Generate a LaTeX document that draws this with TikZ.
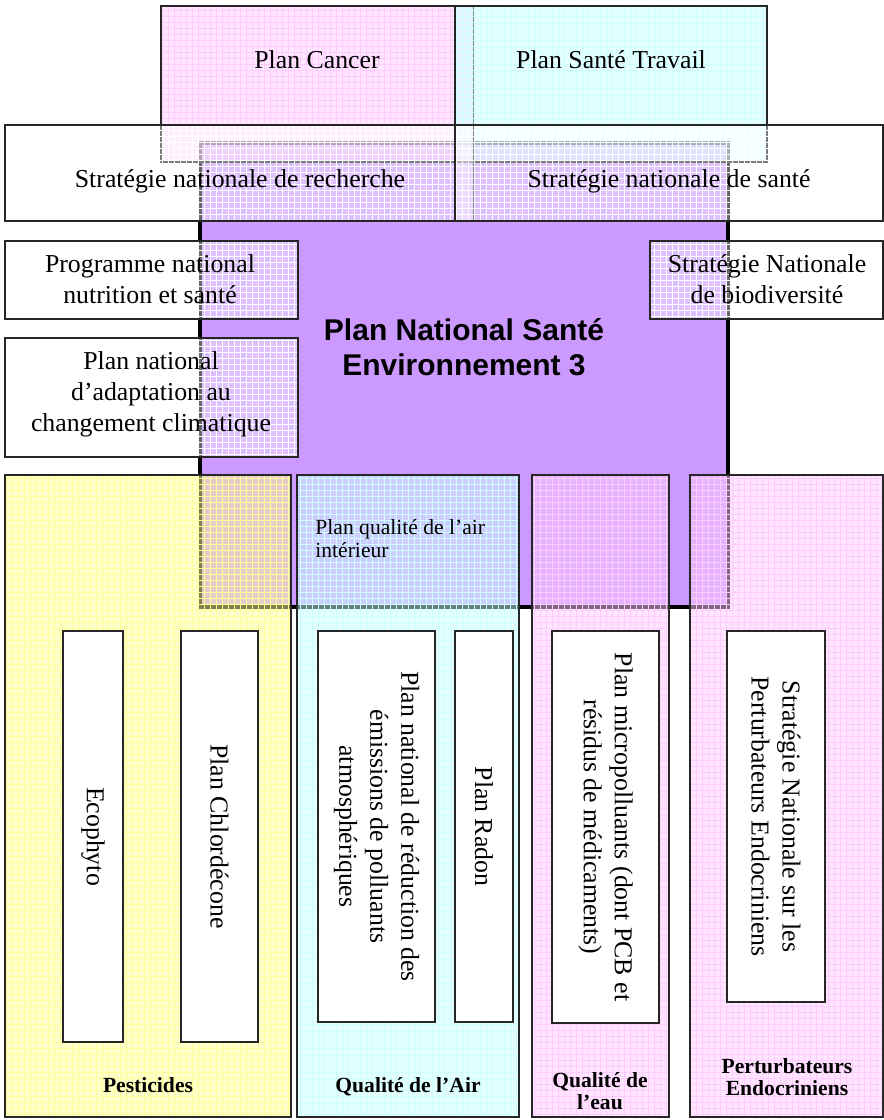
\documentclass[tikz,border=0pt]{standalone}
\usepackage{fontspec}
\setmainfont{Liberation Serif}
\newfontfamily\titlefont{Liberation Sans}
\usetikzlibrary{fit,patterns}

\definecolor{pnsepurple}{RGB}{204,153,255}
\definecolor{cancerpink}{RGB}{255,204,255}
\definecolor{travailcyan}{RGB}{204,255,255}
\definecolor{pestyellow}{RGB}{255,255,153}

\tikzstyle{pnse} = [draw=black, line width=2pt, fill=pnsepurple, inner sep=0pt]
\tikzstyle{zone} = [inner sep=0pt, fill opacity=0.5]
\tikzstyle{whitezone} = [inner sep=0pt, fill opacity=0.4]
\tikzstyle{planbox} = [draw=black!85, line width=0.7pt, inner sep=0pt, fill=white]
\tikzstyle{txt} = [align=center, inner sep=0pt, font=\fontsize{12.9}{15.5}\selectfont]
\tikzstyle{vtxt} = [txt, rotate=-90]
\tikzstyle{theme} = [align=center, inner sep=0pt, font=\bfseries\fontsize{10.8}{10.8}\selectfont]
\tikzset{gridfill/.style={fill=#1, postaction={pattern=grid, pattern color=#1},
    postaction={draw=black!85, line width=0.7pt}}}

\begin{document}
\begin{tikzpicture}[x=0.5pt, y=-0.5pt]
    \useasboundingbox (0,0) rectangle (884,1120);

    % plan central
    \node[pnse, fit={(200,143) (728,607)}] (pnse3) {};

    % plans du haut
    \node[zone, gridfill=cancerpink, fit={(161,6) (474,162)}] (cancer) {};
    \node[zone, gridfill=travailcyan, fit={(455,6) (767,162)}] (travail) {};
    \node[whitezone, gridfill=white, fit={(5,125) (474,221)}] (snr) {};
    \node[whitezone, gridfill=white, fit={(455,125) (883,221)}] (sns) {};

    % plans lateraux
    \node[whitezone, gridfill=white, fit={(5,241) (298,319)}] (pnns) {};
    \node[whitezone, gridfill=white, fit={(5,338) (298,457)}] (pnacc) {};
    \node[whitezone, gridfill=white, fit={(650,241) (883,319)}] (snb) {};

    % colonnes thematiques
    \node[zone, gridfill=pestyellow, fit={(5,475) (291,1117)}] (pest) {};
    \node[zone, gridfill=travailcyan, fit={(297,475) (519,1117)}] (air) {};
    \node[zone, gridfill=cancerpink, fit={(532,475) (669,1117)}] (eau) {};
    \node[zone, gridfill=cancerpink, fit={(690,475) (883,1117)}] (pe) {};

    % plans des colonnes
    \node[planbox, fit={(63,631) (123,1042)}] (ecophyto) {};
    \node[planbox, fit={(181,631) (258,1042)}] (chlordecone) {};
    \node[planbox, fit={(318,631) (435,1022)}] (prepa) {};
    \node[planbox, fit={(455,631) (513,1022)}] (radon) {};
    \node[planbox, fit={(552,631) (659,1023)}] (micropol) {};
    \node[planbox, fit={(727,631) (825,1002)}] (snpe) {};

    % textes
    \node[txt, anchor=base] (cancertxt) at (317,68) {Plan Cancer};
    \node[txt, anchor=base] (travailtxt) at (611,68) {Plan Santé Travail};
    \node[txt, anchor=base] (snrtxt) at (240,187) {Stratégie nationale de recherche};
    \node[txt, anchor=base] (snstxt) at (669,187) {Stratégie nationale de santé};
    \node[txt] (pnnstxt) at (150,279) {Programme national\\nutrition et santé};
    \node[txt] (pnacctxt) at (151,394) {Plan national\\d’adaptation au\\changement climatique};
    \node[txt] (snbtxt) at (767,279) {Stratégie Nationale\\de biodiversité};
    \node[align=center, inner sep=0pt, font=\titlefont\bfseries\fontsize{15}{17.5}\selectfont] (pnse3txt) at (464,347) {Plan National Santé\\Environnement 3};
    \node[align=left, anchor=north west, inner sep=0pt, font=\fontsize{10.8}{11.7}\selectfont] (pqai) at (315,519) {Plan qualité de l’air\\intérieur};

    \node[vtxt] at (ecophyto.center) {Ecophyto};
    \node[vtxt] at (chlordecone.center) {Plan Chlordécone};
    \node[vtxt] at (prepa.center) {Plan national de réduction des\\émissions de polluants\\atmosphériques};
    \node[vtxt] at (radon.center) {Plan Radon};
    \node[vtxt] at (micropol.center) {Plan micropolluants (dont PCB et\\résidus de médicaments)};
    \node[vtxt] at (snpe.center) {Stratégie Nationale sur les\\Perturbateurs Endocriniens};

    \node[theme, anchor=base] (pesttxt) at (148,1092) {Pesticides};
    \node[theme, anchor=base] (airtxt) at (408,1092) {Qualité de l’Air};
    \node[theme] (eautxt) at (600,1091) {Qualité de\\l’eau};
    \node[theme] (petxt) at (787,1077) {Perturbateurs\\Endocriniens};
\end{tikzpicture}
\end{document}
